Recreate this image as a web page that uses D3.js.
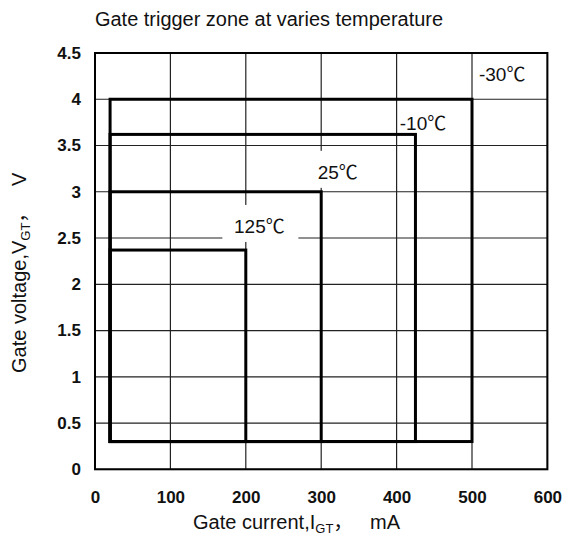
<!DOCTYPE html>
<html>
<head>
<meta charset="utf-8">
<script src="https://cdn.jsdelivr.net/npm/d3@7"></script>
<style>
  body { margin: 0; background: #fff; }
  text { font-family: "Liberation Sans", "Noto Sans CJK SC", sans-serif; fill: #111; }
</style>
</head>
<body>
<svg id="chart"></svg>
<script>
// Data
var zones = ["-30℃", "-10℃", "25℃", "125℃"];
var igtMin = [20, 20, 20, 20];        // mA
var igtMax = [500, 425, 300, 200];    // mA
var vgtMin = [0.3, 0.3, 0.3, 0.3];    // V
var vgtMax = [4.0, 3.62, 3.0, 2.37];  // V
var xTicks = [0, 100, 200, 300, 400, 500, 600];
var yTicks = [0, 0.5, 1, 1.5, 2, 2.5, 3, 3.5, 4, 4.5];

var W = 566, H = 539;
var margin = { top: 53, right: 18.6, bottom: 69.7, left: 95 },
    width = W - margin.left - margin.right,
    height = H - margin.top - margin.bottom;

var x = d3.scaleLinear().domain([0, 600]).range([0, width]);
var y = d3.scaleLinear().domain([0, 4.5]).range([height, 0]);

var root = d3.select("#chart").attr("width", W).attr("height", H);
var svg = root.append("g")
    .attr("transform", "translate(" + margin.left + "," + margin.top + ")");

// title (condensed, as in the original)
root.append("text")
    .attr("x", 269).attr("y", 26)
    .attr("text-anchor", "middle")
    .attr("textLength", 348)
    .attr("lengthAdjust", "spacingAndGlyphs")
    .style("font-size", "19.5px")
    .text("Gate trigger zone at varies temperature");

// grid
svg.append("g").selectAll("line").data(xTicks).enter().append("line")
    .attr("x1", d => x(d)).attr("x2", d => x(d))
    .attr("y1", 0).attr("y2", height)
    .attr("stroke", "#222").attr("stroke-width", 1.2);
svg.append("g").selectAll("line").data(yTicks).enter().append("line")
    .attr("x1", 0).attr("x2", width)
    .attr("y1", d => y(d)).attr("y2", d => y(d))
    .attr("stroke", "#222").attr("stroke-width", 1.2);

// tick labels
var xAxis = svg.append("g")
    .attr("transform", "translate(0," + height + ")")
    .call(d3.axisBottom(x).tickValues(xTicks).tickSize(0).tickPadding(22));
var yAxis = svg.append("g")
    .call(d3.axisLeft(y).tickValues(yTicks).tickSize(0).tickPadding(14)
        .tickFormat(d3.format("")));
[xAxis, yAxis].forEach(function(a) {
    a.select(".domain").remove();
    a.selectAll("text")
        .style("font-family", "'Liberation Sans', Arial, sans-serif")
        .style("font-size", "17px").style("font-weight", "bold").attr("fill", "#111");
});

// zones
var rows = zones.map(function(z, i) {
    return { name: z, x0: igtMin[i], x1: igtMax[i], y0: vgtMin[i], y1: vgtMax[i] };
});
svg.append("g").selectAll("rect").data(rows).enter().append("rect")
    .attr("x", d => x(d.x0)).attr("y", d => y(d.y1))
    .attr("width", d => x(d.x1) - x(d.x0))
    .attr("height", d => y(d.y0) - y(d.y1))
    .attr("fill", "none").attr("stroke", "#000").attr("stroke-width", 3);

// frame
svg.append("rect").attr("width", width).attr("height", height)
    .attr("fill", "none").attr("stroke", "#000").attr("stroke-width", 2);

// zone labels: [centre in mA, baseline in V, white box behind?]
var labelAt = {
    "-30℃": [540, 4.2, false],
    "-10℃": [435, 3.67, false],
    "25℃": [322, 3.14, true],
    "125℃": [218, 2.555, true]
};
rows.forEach(function(d) {
    var p = labelAt[d.name];
    if (p[2]) {
        svg.append("rect")
            .attr("x", x(p[0]) - 37).attr("y", y(p[1]) - 28)
            .attr("width", 76).attr("height", 37)
            .attr("fill", "#fff");
    }
    svg.append("text")
        .attr("x", x(p[0])).attr("y", y(p[1]))
        .attr("text-anchor", "middle")
        .style("font-size", "19px")
        .text(d.name);
});

// axis titles
var xt = root.append("text")
    .attr("x", 193).attr("y", 529)
    .style("font-size", "20px");
xt.append("tspan").text("Gate current,I");
xt.append("tspan").attr("dy", 4).style("font-size", "13px").text("GT");
xt.append("tspan").attr("dy", -4).text("，\u00a0\u00a0\u00a0mA");

var yt = root.append("text")
    .attr("transform", "translate(26,373) rotate(-90)")
    .style("font-size", "20px");
yt.append("tspan").text("Gate voltage,V");
yt.append("tspan").attr("dy", 4).style("font-size", "13px").text("GT");
yt.append("tspan").attr("dy", -4).text("，\u00a0\u00a0\u00a0V");
</script>
</body>
</html>
